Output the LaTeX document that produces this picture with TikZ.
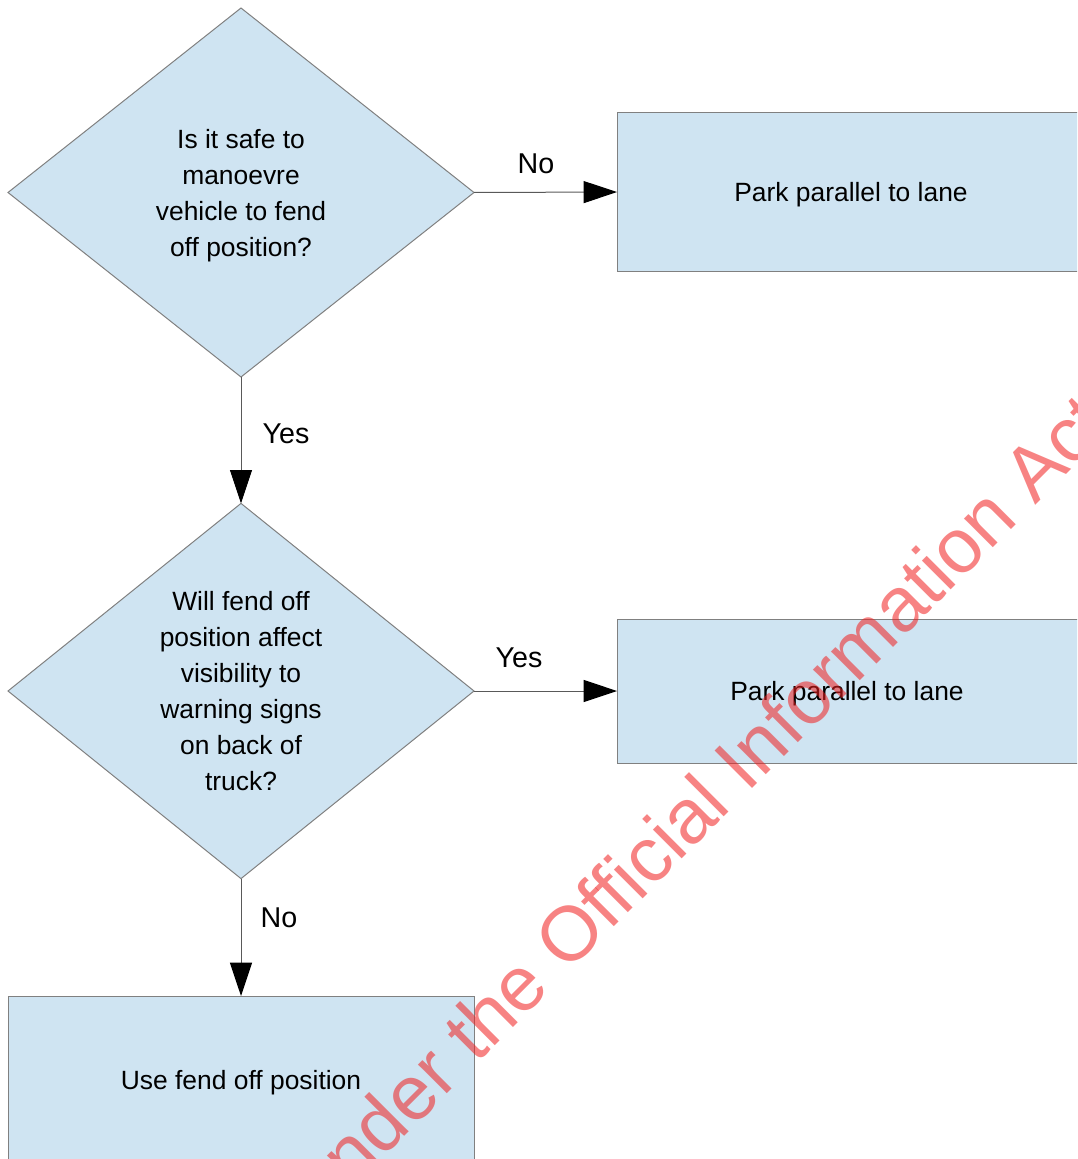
\documentclass[tikz,border=0pt]{standalone}
\usepackage{fontspec}
\setmainfont{Liberation Sans}
\usetikzlibrary{shapes.geometric,arrows.meta}
\definecolor{boxfill}{RGB}{207,228,242}
\definecolor{boxline}{RGB}{128,128,128}
\definecolor{connc}{RGB}{89,89,89}
\definecolor{wmc}{RGB}{240,30,30}
\newcommand\mytop{\rule[-5pt]{0pt}{24.6pt}}
\newcommand\mybot{\rule[-5pt]{0pt}{0pt}}
\begin{document}
\begin{tikzpicture}[x=0.75pt,y=-0.75pt,
  txt/.style={font=\fontsize{19.8}{27}\selectfont, align=center, text=black},
  decision/.style={diamond, draw=boxline, fill=boxfill, line width=0.75pt,
    minimum width=349.5pt, minimum height=276.75pt, inner sep=0pt, outer sep=0pt, txt},
  action/.style={rectangle, draw=boxline, fill=boxfill, line width=0.75pt,
    inner sep=0pt, outer sep=0pt, txt},
  conn/.style={draw=connc, line width=0.75pt,
    -{Triangle[length=25pt,width=16.5pt,color=black,fill=black]}},
  lbl/.style={font=\fontsize{21.5}{26}\selectfont, text=black, inner sep=0pt}]
\useasboundingbox (0,0) rectangle (1077,1159);
\clip (0,0) rectangle (1077,1159);

\node[decision] (d1) at (241,192.5) {\mytop Is it safe to\\manoevre\\vehicle to fend\\off position?\mybot};
\node[action, minimum width=351pt, minimum height=118.5pt] (b1) at (851,192) {\mytop Park parallel to lane};
\node[decision] (d2) at (241,691) {\mytop Will fend off\\position affect\\visibility to\\warning signs\\on back of\\truck?\mybot};
\node[action, minimum width=351pt, minimum height=108pt] (b2) at (851,691) {\mytop\hspace*{-6pt}Park parallel to lane};
\node[action, minimum width=349.5pt, minimum height=126pt] (b3) at (241,1080) {\mytop Use fend off position};

\draw[conn] (d1.east) -- (b1.west);
\draw[conn] (d1.south) -- (d2.north);
\draw[conn] (d2.east) -- (b2.west);
\draw[conn] (d2.south) -- (b3.north);

\node[lbl] (l1) at (536,164) {No};
\node[lbl] (l2) at (286,434) {Yes};
\node[lbl] (l3) at (519,658) {Yes};
\node[lbl] (l4) at (279,918) {No};

\node[rotate=45, anchor=base west, text=wmc, text opacity=0.55, inner sep=0pt,
  font=\fontsize{57.75}{60}\selectfont] (wm) at (322,1219) {under the Official Information Act};
\end{tikzpicture}
\end{document}
